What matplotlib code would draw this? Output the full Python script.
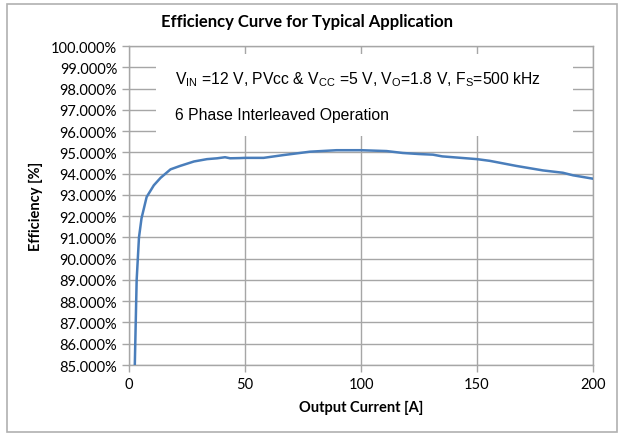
import matplotlib
matplotlib.use("Agg")
import matplotlib.pyplot as plt
from matplotlib.patches import Rectangle
from matplotlib.ticker import FuncFormatter

# data
current = [2.5, 3.3, 4.3, 5.4, 7.6, 10.7, 13.6, 17.9, 22, 28, 33.6, 38, 41.4, 43.6,
           47.8, 50, 58, 66.5, 78, 89.5, 100, 111, 118, 125, 131, 135, 150, 155.5,
           167, 178.4, 187, 191.4, 200]
efficiency = [85.0, 89.0, 91.0, 91.9, 92.9, 93.45, 93.8, 94.2, 94.36, 94.57, 94.68,
              94.72, 94.77, 94.72, 94.73, 94.74, 94.74, 94.87, 95.03, 95.1, 95.1,
              95.06, 94.97, 94.92, 94.89, 94.81, 94.68, 94.6, 94.36, 94.15, 94.04,
              93.92, 93.76]
x_ticks = [0, 50, 100, 150, 200]
y_ticks = list(range(85, 101))

title = "Efficiency Curve for Typical Application"
x_label = "Output Current [A]"
y_label = "Efficiency [%]"
note1 = (r"V$_{\mathrm{IN}}$ =12 V, PVcc & V$_{\mathrm{CC}}$ =5 V, "
         r"V$_{\mathrm{O}}$=1.8 V, F$_{\mathrm{S}}$=500 kHz")
note2 = "6 Phase Interleaved Operation"

plt.rcParams['font.family'] = ['Lato', 'DejaVu Sans']
plt.rcParams['mathtext.fontset'] = 'custom'
plt.rcParams['mathtext.rm'] = 'Liberation Sans'

grid_col = '#a6a6a6'

fig = plt.figure(figsize=(6.18, 4.35), dpi=100)
ax = fig.add_axes([129 / 618, 1 - 366 / 435, 464 / 618, 319 / 435])

# outer frame of the chart
fig.patches.append(Rectangle((7 / 618, 2 / 435), 610 / 618, 428 / 435,
                             transform=fig.transFigure, fill=False,
                             ec='#b0b0b0', lw=1.2))

ax.plot(current, efficiency, color='#4a7ebb', lw=1.8, zorder=4)

ax.set_xlim(0, 200)
ax.set_ylim(85, 100)
ax.set_xticks(x_ticks)
ax.set_yticks(y_ticks)
ax.yaxis.set_major_formatter(FuncFormatter(lambda v, p: "%.3f%%" % v))
ax.grid(True, color=grid_col, lw=1.0, zorder=1)
ax.set_axisbelow(True)
for s in ax.spines.values():
    s.set_color(grid_col)
    s.set_linewidth(1.0)
ax.tick_params(axis='both', colors=grid_col, labelcolor='black', labelsize=10.5,
               length=5, width=1.0)
ax.tick_params(axis='x', pad=4)

# white box behind the notes
ax.add_patch(Rectangle((0.058, 0.718), 0.899, 0.257, transform=ax.transAxes,
                       fc='white', ec='none', zorder=2))
ax.text(0.099, 0.897, note1, transform=ax.transAxes, fontsize=11.3,
        family='Liberation Sans', va='center', ha='left', zorder=3)
ax.text(0.099, 0.784, note2, transform=ax.transAxes, fontsize=11.3,
        family='Liberation Sans', va='center', ha='left', zorder=3)

fig.text(307 / 618, 1 - 22 / 435, title, ha='center', va='center',
         fontsize=12, fontweight='bold')
ax.set_xlabel(x_label, fontsize=10.5, fontweight='bold', labelpad=6)
ax.set_ylabel(y_label, fontsize=10.5, fontweight='bold', labelpad=6)

fig.savefig("out.png", dpi=100)
